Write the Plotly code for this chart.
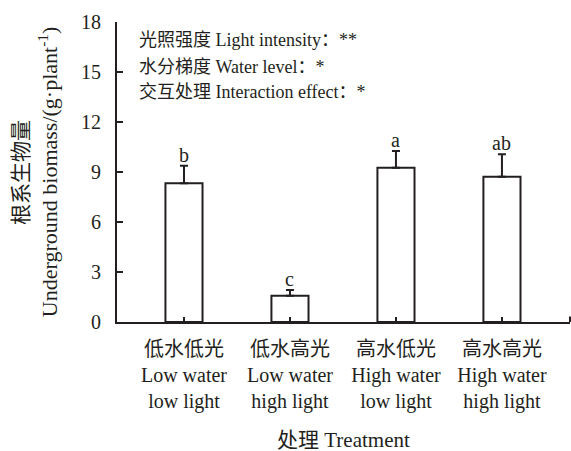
import plotly.graph_objects as go

# Treatments (Chinese / English labels)
treat_cn = ["低水低光", "低水高光", "高水低光", "高水高光"]
treat_en1 = ["Low water", "Low water", "High water", "High water"]
treat_en2 = ["low light", "high light", "low light", "high light"]

# Underground biomass (g/plant) and standard errors
biomass = [8.32, 1.58, 9.26, 8.72]
errors = [1.06, 0.34, 1.00, 1.34]
letters = ["b", "c", "a", "ab"]

# ANOVA significance notes
stats_lines = [
    "光照强度 Light intensity：**",
    "水分梯度 Water level：*",
    "交互处理 Interaction effect：*",
]
stats_y = [16.9, 15.3, 13.8]

ink = "#231f20"
font_family = "Liberation Serif, Times New Roman, Noto Sans CJK SC, serif"

xs = list(range(len(treat_cn)))
ticktext = [f"{c}<br>{a}<br>{b}" for c, a, b in zip(treat_cn, treat_en1, treat_en2)]

fig = go.Figure()
fig.add_trace(go.Bar(
    x=xs,
    y=biomass,
    width=0.35,
    marker=dict(color="white", line=dict(color=ink, width=2)),
    error_y=dict(type="data", array=errors, arrayminus=[0] * len(errors),
                 symmetric=False, color=ink, thickness=2, width=4),
    showlegend=False,
))

annotations = []
for x, v, e, t in zip(xs, biomass, errors, letters):
    annotations.append(dict(x=x, y=v + e, xref="x", yref="y", text=t,
                            showarrow=False, yanchor="bottom", yshift=-2,
                            font=dict(size=20, color=ink, family=font_family)))

for t, y in zip(stats_lines, stats_y):
    annotations.append(dict(x=0.044, y=y, xref="paper", yref="y", text=t,
                            showarrow=False, xanchor="left", yanchor="middle",
                            font=dict(size=18, color=ink, family=font_family)))

# Axis titles
annotations.append(dict(x=0.5, y=-0.393, xref="paper", yref="paper",
                        text="处理 Treatment", showarrow=False,
                        xanchor="center", yanchor="middle",
                        font=dict(size=21, color=ink, family=font_family)))
annotations.append(dict(x=-0.212, y=0.5, xref="paper", yref="paper",
                        text="根系生物量", textangle=-90, showarrow=False,
                        xanchor="center", yanchor="middle",
                        font=dict(size=21, color=ink, family=font_family)))
annotations.append(dict(x=-0.152, y=0.5, xref="paper", yref="paper",
                        text="Underground biomass/(g·plant<sup>-1</sup>)",
                        textangle=-90, showarrow=False,
                        xanchor="center", yanchor="middle",
                        font=dict(size=22, color=ink, family=font_family)))

fig.update_layout(
    width=571, height=451,
    margin=dict(l=117, r=1, t=22, b=129),
    paper_bgcolor="white", plot_bgcolor="white",
    font=dict(family=font_family, color=ink),
    annotations=annotations,
    shapes=[dict(type="line", xref="paper", yref="paper", x0=1, x1=1,
                 y0=0, y1=0.018, line=dict(color=ink, width=2))],
)
fig.update_xaxes(
    range=[-0.632, 3.642], tickmode="array", tickvals=xs, ticktext=ticktext,
    showline=True, linecolor=ink, linewidth=2, ticks="inside", ticklen=5,
    tickwidth=2, tickcolor=ink, showgrid=False, zeroline=False,
    ticklabelstandoff=8,
    tickfont=dict(size=20, color=ink, family=font_family),
)
fig.update_yaxes(
    range=[0, 18], tickmode="array", tickvals=[0, 3, 6, 9, 12, 15, 18],
    showline=True, linecolor=ink, linewidth=2, ticks="inside", ticklen=6,
    tickwidth=2, tickcolor=ink, showgrid=False, zeroline=False,
    ticklabelstandoff=10,
    tickfont=dict(size=20, color=ink, family=font_family),
)

fig.write_html("out.html")
